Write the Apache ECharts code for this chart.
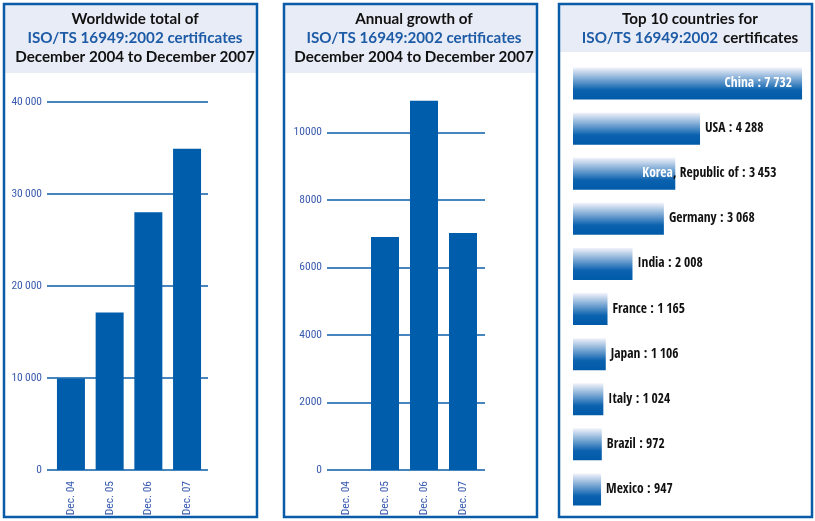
<!DOCTYPE html>
<html><head><meta charset="utf-8">
<script src="https://cdn.jsdelivr.net/npm/echarts@6/dist/echarts.min.js"></script>
<style>html,body{margin:0;padding:0;background:#fff}#c{width:815px;height:521px}</style>
</head><body><div id="c"></div>
<script>
const years = ['Dec. 04', 'Dec. 05', 'Dec. 06', 'Dec. 07'];
const totalValues = [9950, 17100, 28000, 34900];
const growthValues = [0, 6900, 10930, 7020];
const countries = ['China', 'USA', 'Korea, Republic of', 'Germany', 'India', 'France', 'Japan', 'Italy', 'Brazil', 'Mexico'];
const countryValues = [7732, 4288, 3453, 3068, 2008, 1165, 1106, 1024, 972, 947];
const totalTicks = [0, 10000, 20000, 30000, 40000];
const growthTicks = [0, 2000, 4000, 6000, 8000, 10000];

const BLUE = '#0a5ca8';
const BAR = '#005dab';
const NARROW = '"Roboto Condensed","Open Sans Condensed",sans-serif';
const NARROWB = '"Open Sans Condensed","Roboto Condensed",sans-serif';
const TITLEF = 'Lato, "Open Sans", sans-serif';
const fmtSp = v => String(v).replace(/\B(?=(\d{3})+(?!\d))/g, '\u2009');

const chart = echarts.init(document.getElementById('c'), null, {renderer: 'canvas'});

const panels = [4, 284, 559];
const graphic = [];
panels.forEach((x, i) => {
  graphic.push({type: 'rect', shape: {x: x, y: 4, width: 253, height: (i === 2 ? 48 : 69)}, style: {fill: '#e8ecf6'}, z: -10, silent: true});
  graphic.push({type: 'rect', shape: {x: x, y: 4, width: 253, height: 513}, style: {fill: null, stroke: BLUE, lineWidth: 2.5}, z: 10, silent: true});
});

const titleRich = {
  k: {fontFamily: TITLEF, fontWeight: 'bold', fontSize: 15.2, color: '#111', lineHeight: 19},
  b: {fontFamily: TITLEF, fontWeight: 'bold', fontSize: 15.2, color: '#1d5ba6', lineHeight: 19}
};

function lineYAxis(gridIndex, max, interval, ticks, fmt, showMaxLine) {
  return {
    type: 'value', gridIndex, min: 0, max, interval,
    axisLine: {show: false}, axisTick: {show: false},
    axisLabel: {fontFamily: NARROW, fontSize: 11.5, color: '#3a5cb0', margin: 5,
      formatter: v => ticks.indexOf(v) >= 0 ? fmt(v) : '', showMaxLabel: showMaxLine},
    splitLine: {show: true, showMaxLine: showMaxLine, lineStyle: {color: BLUE, width: 1.5}}
  };
}
function barYAxis(gridIndex, max) {
  return {type: 'value', gridIndex, min: 0, max, show: false, splitLine: {show: false}};
}
function catXAxis(gridIndex) {
  return {
    type: 'category', gridIndex, data: years,
    axisLine: {show: false}, axisTick: {show: false},
    axisLabel: {rotate: 90, fontFamily: NARROW, fontSize: 11.5, color: '#3a5cb0', margin: 11}
  };
}

const maxC = Math.max(...countryValues);
const countryData = countryValues.map((v, i) => {
  const item = {value: v};
  if (v === maxC) {
    item.label = {position: 'insideRight', distance: 10, color: '#fff', formatter: countries[i] + ' : ' + fmtSp(v)};
  } else if (countries[i].indexOf(',') > 0) {
    const parts = countries[i].split(',');
    item.label = {position: 'right', distance: 0, offset: [-33, 0],
      formatter: '{w|' + parts[0] + '}{k|,' + parts[1] + ' : ' + fmtSp(v) + '}'};
  } else {
    item.label = {position: 'right', distance: 5, formatter: countries[i] + ' : ' + fmtSp(v)};
  }
  return item;
});

const option = {
  animation: false,
  graphic,
  title: [
    {text: '{k|Worldwide total of}\n{b|ISO/TS 16949:2002 certificates}\n{k|December 2004 to December 2007}', left: 130, top: 5, textAlign: 'center', textStyle: {rich: titleRich}},
    {text: '{k|Annual growth of}\n{b|ISO/TS 16949:2002 certificates}\n{k|December 2004 to December 2007}', left: 409, top: 5, textAlign: 'center', textStyle: {rich: titleRich}},
    {text: '{k|Top 10 countries for}\n{b|ISO/TS 16949:2002} {k|certificates}', left: 685, top: 5, textAlign: 'center', textStyle: {rich: titleRich}}
  ],
  grid: [
    {left: 47, top: 101.7, width: 161, height: 368.3},
    {left: 51.6, top: 101.7, width: 154.8, height: 368.3},
    {left: 327, top: 98.5, width: 158, height: 371.5},
    {left: 326.5, top: 98.5, width: 156, height: 371.5},
    {left: 573, top: 61, width: 237, height: 451}
  ],
  xAxis: [
    {type: 'value', gridIndex: 0, show: false, splitLine: {show: false}},
    catXAxis(1),
    {type: 'value', gridIndex: 2, show: false, splitLine: {show: false}},
    catXAxis(3),
    {type: 'value', gridIndex: 4, min: 0, max: 8000, show: false}
  ],
  yAxis: [
    lineYAxis(0, 40000, 10000, totalTicks, v => fmtSp(v), true),
    barYAxis(1, 40000),
    lineYAxis(2, 11000, 2000, growthTicks, v => String(v), false),
    barYAxis(3, 11000),
    {type: 'category', gridIndex: 4, data: countries, inverse: true, show: false}
  ],
  series: [
    {type: 'bar', xAxisIndex: 1, yAxisIndex: 1, data: totalValues, barWidth: 28, itemStyle: {color: BAR}},
    {type: 'bar', xAxisIndex: 3, yAxisIndex: 3, data: growthValues, barWidth: 28, itemStyle: {color: BAR}},
    {type: 'bar', xAxisIndex: 4, yAxisIndex: 4, data: countryData, barWidth: 32,
      itemStyle: {color: new echarts.graphic.LinearGradient(0, 0, 0, 1, [
        {offset: 0, color: '#f2f3fb'}, {offset: 0.7, color: '#0b62af'}, {offset: 1, color: '#005aa8'}])},
      label: {show: true, fontFamily: NARROWB, fontWeight: 'bold', fontSize: 13.5, color: '#111',
        rich: {w: {color: '#fff', fontFamily: NARROWB, fontWeight: 'bold', fontSize: 13.5},
               k: {color: '#111', fontFamily: NARROWB, fontWeight: 'bold', fontSize: 13.5}}}
    }
  ]
};
chart.setOption(option);
</script></body></html>
